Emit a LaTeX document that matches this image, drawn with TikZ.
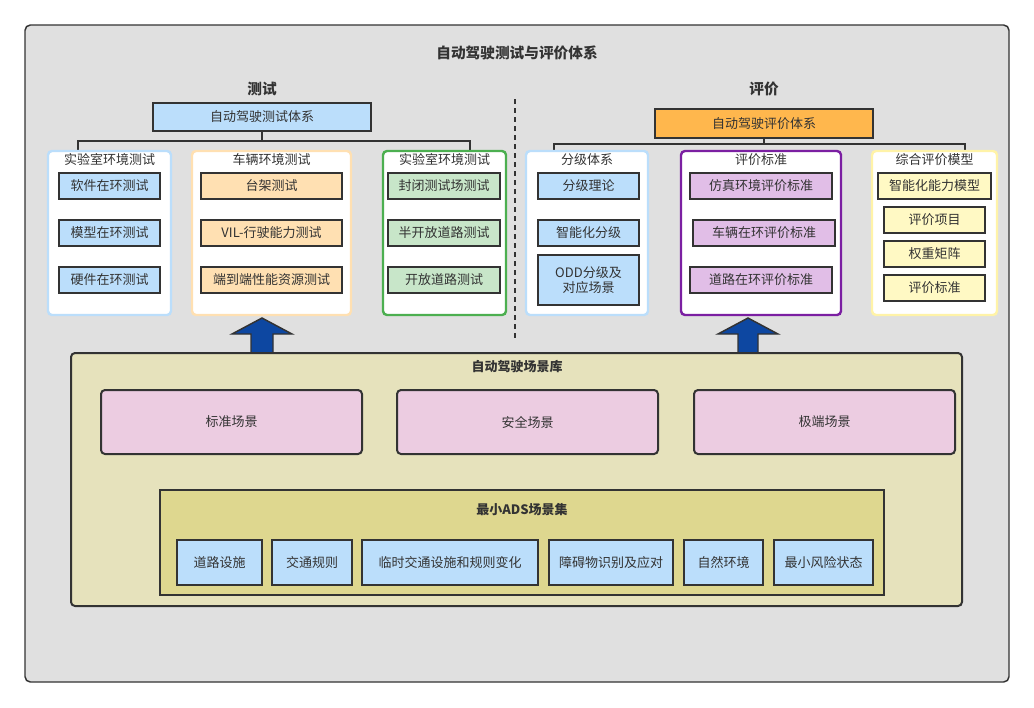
\documentclass[tikz,border=0pt]{standalone}
\usepackage{fontspec}
\setmainfont{Noto Sans CJK SC}
\definecolor{ink}{HTML}{333333}
\definecolor{framegray}{HTML}{E0E0E0}
\definecolor{lblue}{HTML}{BBDEFB}
\definecolor{lorange}{HTML}{FFE0B2}
\definecolor{lgreen}{HTML}{C8E6C9}
\definecolor{mgreen}{HTML}{4CAF50}
\definecolor{lpurple}{HTML}{E1BEE7}
\definecolor{mpurple}{HTML}{7B1FA2}
\definecolor{lyellow}{HTML}{FFF9C4}
\definecolor{yborder}{HTML}{FFF3A8}
\definecolor{hdrorange}{HTML}{FFB74D}
\definecolor{khaki}{HTML}{E6E2BC}
\definecolor{khakid}{HTML}{DED78F}
\definecolor{pinkbox}{HTML}{ECCCE1}
\definecolor{arrowblue}{HTML}{0D47A1}
\begin{document}
\begin{tikzpicture}[x=0.75pt,y=-0.75pt,
	txt/.style={text=ink,font=\fontsize{9.75}{11}\selectfont,inner sep=0pt},
	btxt/.style={text=ink,font=\fontsize{9.75}{11}\selectfont\bfseries,inner sep=0pt},
	ttl/.style={text=ink,font=\fontsize{11}{13}\selectfont\bfseries,inner sep=0pt},
	sz/.style 2 args={minimum width=#1*0.75pt,minimum height=#2*0.75pt},
	item/.style={txt,draw=ink,line width=1.5pt,align=center},
	grp/.style={draw=#1,fill=white,line width=1.8pt,rounded corners=3pt,inner sep=0pt},
	tree/.style={draw=ink,line width=1.1pt},
	bigarrow/.style={fill=arrowblue,draw=ink,line width=1.1pt,line join=miter}]
			\fill[white] (0,0) rectangle (1034,707);
			\useasboundingbox (0,0) rectangle (1034,707);
			\draw[draw=ink,fill=framegray,line width=1.1pt,rounded corners=4pt] (25,25) rectangle (1009,682);
			\node[ttl] (title) at (517,53) {自动驾驶测试与评价体系};
			\node[ttl] (lblT) at (262,89) {测试};
			\node[ttl] (lblE) at (764,89) {评价};
			% divider
			\coordinate (dTop) at (515,99);
			\coordinate (dBot) at (515,338);
			\draw[ink,line width=1.5pt,dash pattern=on 3.75pt off 3pt] (dTop) -- (dBot);
			% test side
			\node[item,sz={218}{28},fill=lblue] (hdrT) at (262,117) {自动驾驶测试体系};
			\coordinate (tTL) at (78,151);
			\coordinate (tTM) at (262,141);
			\coordinate (tTR) at (470,151);
			\draw[tree] (hdrT.south) -- (tTM);
			\draw[tree] (tTL) |- (tTM) -| (tTR);
			\node[grp=lblue,sz={123}{164}] (gLab) at (109.5,233) {};
			\node[grp=lorange,sz={159}{164}] (gVeh) at (271.5,233) {};
			\node[grp=mgreen,sz={123}{164}] (gRoad) at (444.5,233) {};
			\node[txt] (gLabT) at (109.5,160) {实验室环境测试};
			\node[txt] (gVehT) at (271.5,160) {车辆环境测试};
			\node[txt] (gRoadT) at (444.5,160) {实验室环境测试};
			\node[item,sz={101}{26},fill=lblue] (sil) at (109.5,186) {软件在环测试};
			\node[item,sz={101}{26},fill=lblue] (mil) at (109.5,233) {模型在环测试};
			\node[item,sz={101}{26},fill=lblue] (hil) at (109.5,280) {硬件在环测试};
			\node[item,sz={141}{26},fill=lorange] (bench) at (271.5,186) {台架测试};
			\node[item,sz={141}{26},fill=lorange] (vil) at (271.5,233) {VIL-行驶能力测试};
			\node[item,sz={141}{26},fill=lorange] (e2e) at (271.5,280) {端到端性能资源测试};
			\node[item,sz={112}{26},fill=lgreen] (closed) at (444,186) {封闭测试场测试};
			\node[item,sz={112}{26},fill=lgreen] (semi) at (444,233) {半开放道路测试};
			\node[item,sz={112}{26},fill=lgreen] (open) at (444,280) {开放道路测试};
			% evaluation side
			\node[item,sz={218}{29},fill=hdrorange] (hdrE) at (764,123.5) {自动驾驶评价体系};
			\coordinate (tEL) at (554,151);
			\coordinate (tEM) at (764,144);
			\coordinate (tER) at (965,151);
			\draw[tree] (hdrE.south) -- (tEM);
			\draw[tree] (tEL) |- (tEM) -| (tER);
			\node[grp=lblue,sz={122}{164}] (gLvl) at (587,233) {};
			\node[grp=mpurple,sz={160}{164}] (gStd) at (761,233) {};
			\node[grp=yborder,sz={125}{164}] (gMod) at (934.5,233) {};
			\node[txt] (gLvlT) at (587,160) {分级体系};
			\node[txt] (gStdT) at (761,160) {评价标准};
			\node[txt] (gModT) at (934.5,160) {综合评价模型};
			\node[item,sz={101}{26},fill=lblue] (lvlTh) at (588.5,186) {分级理论};
			\node[item,sz={101}{26},fill=lblue] (lvlInt) at (588.5,233) {智能化分级};
			\node[item,sz={101}{50},fill=lblue] (lvlOdd) at (588.5,280) {ODD分级及\\对应场景};
			\node[item,sz={142}{26},fill=lpurple] (stdSim) at (761,186) {仿真环境评价标准};
			\node[item,sz={142}{26},fill=lpurple] (stdVeh) at (764,233) {车辆在环评价标准};
			\node[item,sz={142}{26},fill=lpurple] (stdRoad) at (761,280) {道路在环评价标准};
			\node[item,sz={113}{26},fill=lyellow] (modCap) at (934.5,186) {智能化能力模型};
			\node[item,sz={101}{26},fill=lyellow] (modItem) at (934.5,220) {评价项目};
			\node[item,sz={101}{26},fill=lyellow] (modWt) at (934.5,254) {权重矩阵};
			\node[item,sz={101}{26},fill=lyellow] (modStd) at (934.5,288) {评价标准};
			% arrows up
			\coordinate (aT) at (262,353);
			\coordinate (aE) at (748,353);
			\draw[bigarrow] (aT) ++(-11,0) -- ++(0,-19) -- ++(-19,0) -- ++(30,-16) -- ++(30,16) -- ++(-19,0) -- ++(0,19) -- cycle;
			\draw[bigarrow] (aE) ++(-10,0) -- ++(0,-19) -- ++(-20,0) -- ++(30,-16) -- ++(30,16) -- ++(-20,0) -- ++(0,19) -- cycle;
			% scenario library
			\node[item,sz={891}{253},fill=khaki,rounded corners=3pt] (lib) at (516.5,479.5) {};
			\node[btxt] (libT) at (517,367) {自动驾驶场景库};
			\node[item,sz={261}{64},fill=pinkbox,rounded corners=3pt] (scStd) at (231.5,422) {标准场景};
			\node[item,sz={261}{64},fill=pinkbox,rounded corners=3pt] (scSafe) at (527.5,422) {安全场景};
			\node[item,sz={261}{64},fill=pinkbox,rounded corners=3pt] (scExt) at (824.5,422) {极端场景};
			\node[item,sz={724}{105},fill=khakid] (minSet) at (522,542.5) {};
			\node[btxt] (minSetT) at (522,510) {最小ADS场景集};
			\node[item,sz={85}{45},fill=lblue] (mRoad) at (219.5,562.5) {道路设施};
			\node[item,sz={80}{45},fill=lblue] (mRule) at (312,562.5) {交通规则};
			\node[item,sz={176}{45},fill=lblue] (mTemp) at (450,562.5) {临时交通设施和规则变化};
			\node[item,sz={124}{45},fill=lblue] (mObs) at (611,562.5) {障碍物识别及应对};
			\node[item,sz={79}{45},fill=lblue] (mEnv) at (723.5,562.5) {自然环境};
			\node[item,sz={99}{45},fill=lblue] (mRisk) at (823.5,562.5) {最小风险状态};
		\end{tikzpicture}
\end{document}
